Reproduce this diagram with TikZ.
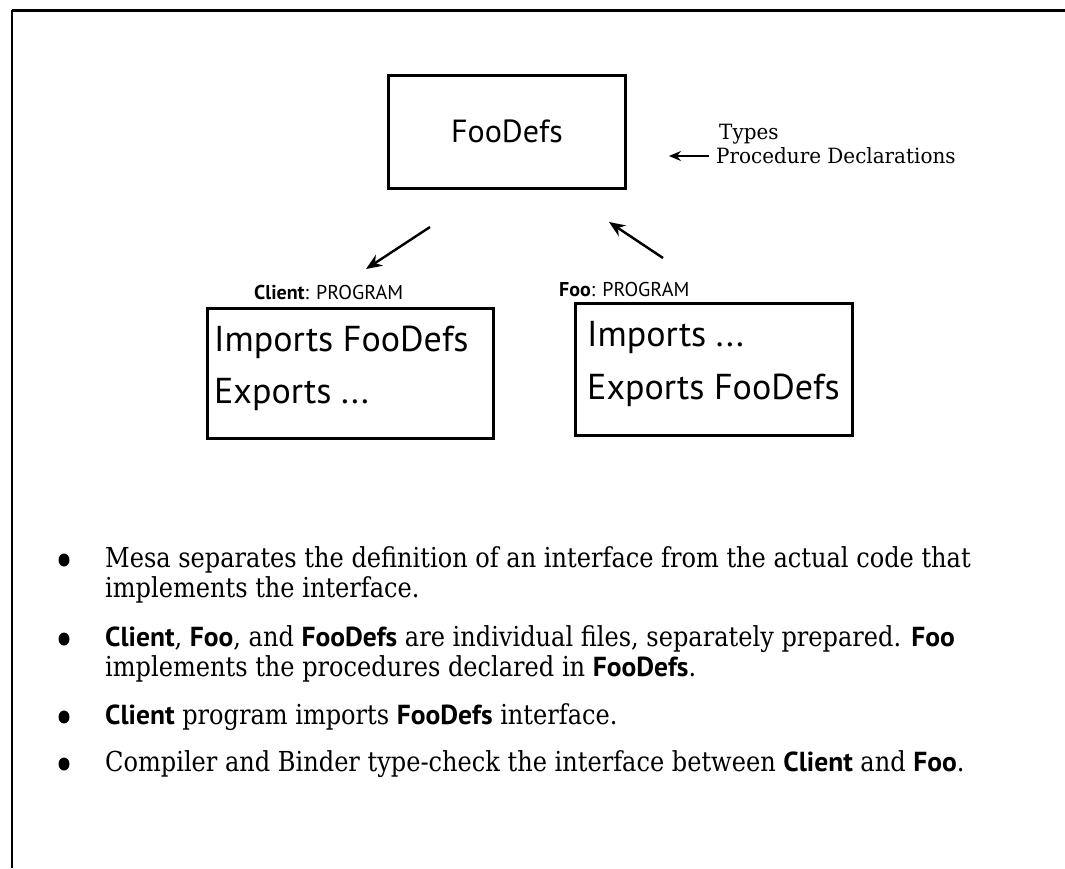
\documentclass[tikz,border=0pt]{standalone}
\usepackage{fontspec}
\setmainfont{DejaVu Serif}[FakeStretch=0.875]
\newfontfamily\sideserif{DejaVu Serif}[FakeStretch=0.95]
\newfontfamily\pts{PT Sans}
\usetikzlibrary{arrows.meta,shapes.geometric}
\tikzset{
  boxstyle/.style={draw, line width=3pt, inner sep=0pt},
  bigsans/.style={font=\pts\fontsize{36}{40}\selectfont, inner sep=0pt, anchor=west},
  titlesans/.style={font=\pts\fontsize{32}{36}\selectfont, inner sep=0pt},
  labsans/.style={font=\pts\fontsize{20}{24}\selectfont, inner sep=0pt, anchor=west},
  smallserif/.style={font=\sideserif\fontsize{21}{24}\selectfont, inner sep=0pt, anchor=west},
  bulltext/.style={font=\fontsize{27.5}{32}\selectfont, inner sep=0pt, anchor=west},
  bulletdot/.style={ellipse, fill=black, inner sep=0pt, minimum width=11pt, minimum height=13pt},
  bigarrow/.style={line width=2.4pt, -{Stealth[length=16pt,width=13pt]}},
  smallarrow/.style={line width=1.6pt, -{Stealth[length=12pt,width=10pt]}},
}
\newcommand{\B}[1]{{\pts\bfseries #1}}
\begin{document}
\begin{tikzpicture}[x=1pt,y=-1pt]
\useasboundingbox (0,0) rectangle (1065,868);
% frame
\coordinate (fl) at (12,10);
\coordinate (fr) at (1065,10);
\coordinate (fb) at (12,868);
\draw[line width=3pt] (fl) -- (fr);
\draw[line width=1.3pt] (fl) -- (fb);

% FooDefs box
\node[boxstyle, minimum width=237pt, minimum height=113pt, titlesans] (defs) at (507,131.5) {FooDefs};

% side notes
\node[smallserif] (types) at (719,134) {Types};
\node[smallserif] (proc) at (716,156) {Procedure Declarations};
\coordinate (pa) at (709,156);
\coordinate (pb) at (669,156);
\draw[smallarrow] (pa) -- (pb);

% arrows
\coordinate (a1s) at (430,227);
\coordinate (a1e) at (366,269);
\draw[bigarrow] (a1s) -- (a1e);
\coordinate (a2s) at (663,258);
\coordinate (a2e) at (609,222);
\draw[bigarrow] (a2s) -- (a2e);

% labels
\node[labsans] (clab) at (254,292) {\textbf{Client}: PROGRAM};
\node[labsans] (flab) at (559,290) {\textbf{Foo}: PROGRAM};

% program boxes
\node[boxstyle, minimum width=286pt, minimum height=130pt] (cbox) at (350,373) {};
\node[boxstyle, minimum width=277pt, minimum height=132pt] (fbox) at (713.5,369) {};

\node[bigsans] (cimp) at (214,342) {Imports FooDefs};
\node[bigsans] (cexp) at (214,394) {Exports ...};
\node[bigsans] (fimp) at (587,337) {Imports ...};
\node[bigsans] (fexp) at (587,390) {Exports FooDefs};

% bullets
\node[bulletdot] (d1) at (64,560) {};
\node[bulletdot] (d2) at (64,639) {};
\node[bulletdot] (d3) at (64,717) {};
\node[bulletdot] (d4) at (64,764) {};

\node[bulltext] (t1a) at (105,560) {Mesa separates the definition of an interface from the actual code that};
\node[bulltext] (t1b) at (105,590) {implements the interface.};
\node[bulltext] (t2a) at (105,639) {\B{Client}, \B{Foo}, and \B{FooDefs} are individual files, separately prepared. \B{Foo}};
\node[bulltext] (t2b) at (105,669) {implements the procedures declared in \B{FooDefs}.};
\node[bulltext] (t3) at (105,717) {\B{Client} program imports \B{FooDefs} interface.};
\node[bulltext] (t4) at (105,764) {Compiler and Binder type-check the interface between \B{Client} and \B{Foo}.};
\end{tikzpicture}
\end{document}
